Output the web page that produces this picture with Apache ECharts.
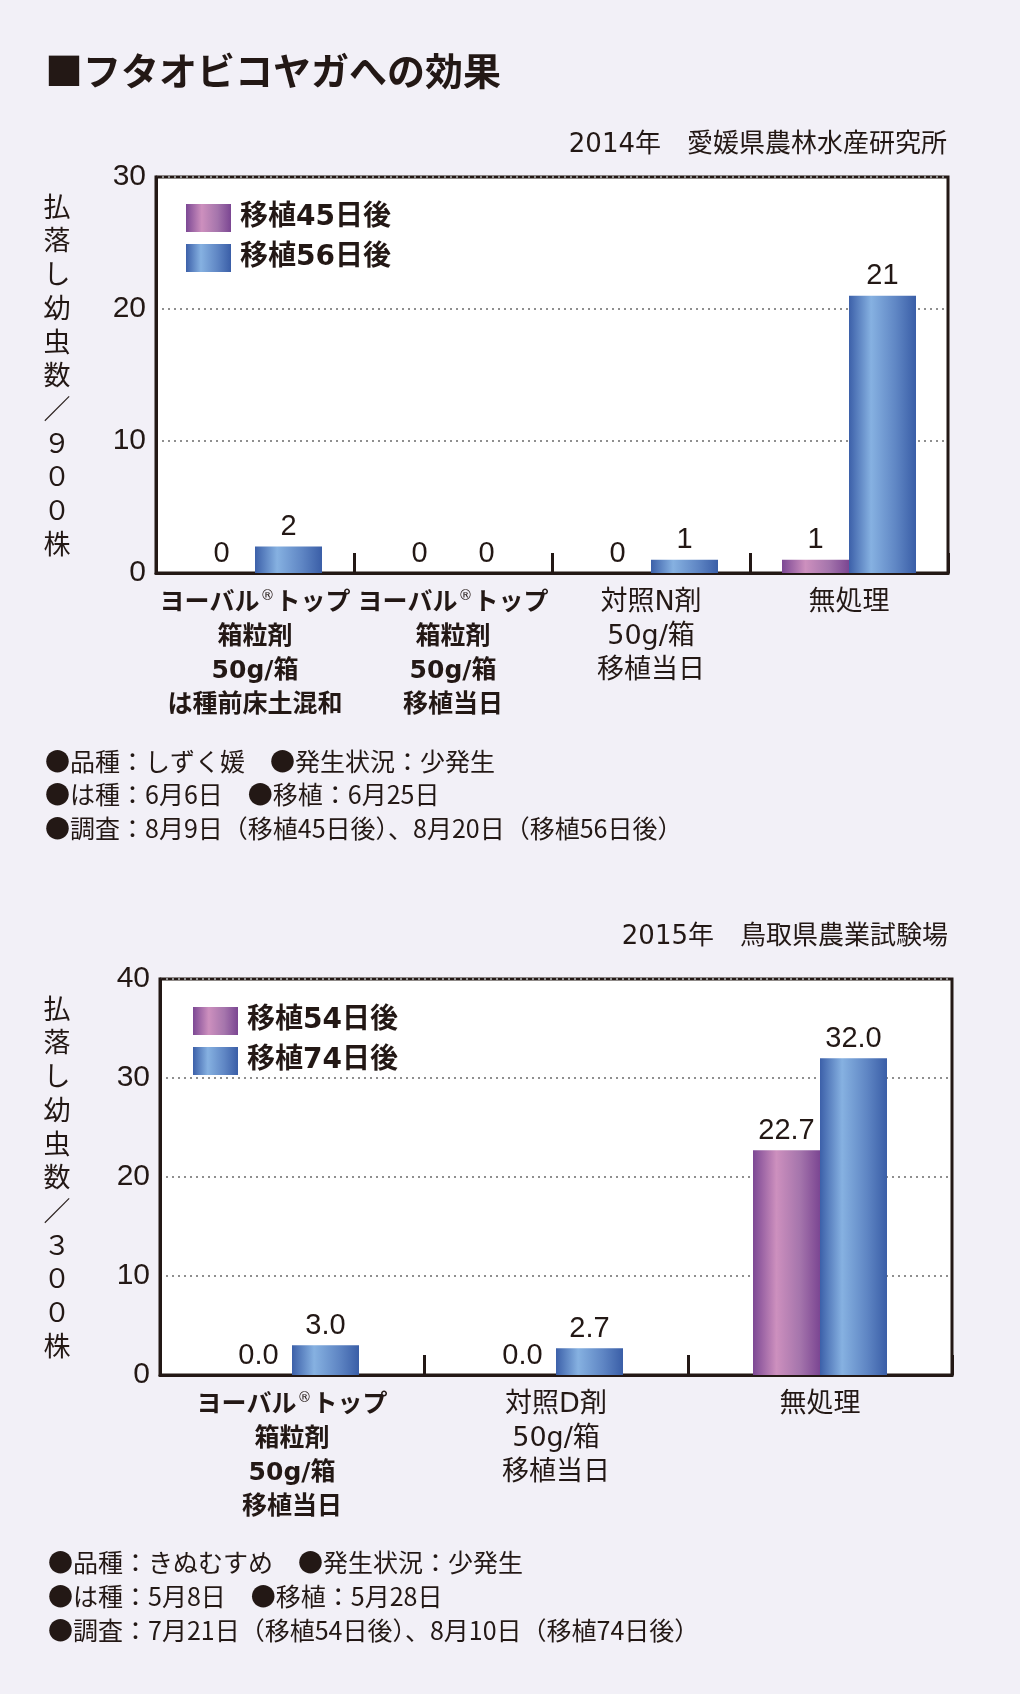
<!DOCTYPE html>
<html>
<head>
<meta charset="utf-8">
<script src="https://cdn.jsdelivr.net/npm/echarts@6/dist/echarts.min.js"></script>
<style>
html,body{margin:0;padding:0;background:#f2f0f7;}
#main{width:1020px;height:1694px;}
</style>
</head>
<body>
<div id="main"></div>
<script>
// ---------- data ----------
const pageTitle = '■フタオビコヤガへの効果';

const source1 = '2014年　愛媛県農林水産研究所';
const categories1 = [
  'ヨーバル®トップ\n箱粒剤\n50g/箱\nは種前床土混和',
  'ヨーバル®トップ\n箱粒剤\n50g/箱\n移植当日',
  '対照N剤\n50g/箱\n移植当日',
  '無処理'
];
const boldCats1 = [true, true, false, false];
const seriesNames1 = ['移植45日後', '移植56日後'];
const values1a = [0, 0, 0, 1];
const values1b = [2, 0, 1, 21];
const yTicks1 = {min: 0, max: 30, interval: 10};
const yTitle1 = '払落し幼虫数／９００株';
const notes1 = [
  '●品種：しずく媛　●発生状況：少発生',
  '●は種：6月6日　●移植：6月25日',
  '●調査：8月9日（移植45日後）、8月20日（移植56日後）'
];

const source2 = '2015年　鳥取県農業試験場';
const categories2 = [
  'ヨーバル®トップ\n箱粒剤\n50g/箱\n移植当日',
  '対照D剤\n50g/箱\n移植当日',
  '無処理'
];
const boldCats2 = [true, false, false];
const seriesNames2 = ['移植54日後', '移植74日後'];
const values2a = [0.0, 0.0, 22.7];
const values2b = [3.0, 2.7, 32.0];
const yTicks2 = {min: 0, max: 40, interval: 10};
const yTitle2 = '払落し幼虫数／３００株';
const notes2 = [
  '●品種：きぬむすめ　●発生状況：少発生',
  '●は種：5月8日　●移植：5月28日',
  '●調査：7月21日（移植54日後）、8月10日（移植74日後）'
];

// ---------- styles ----------
const INK = '#231815';
const BG = '#f2f0f7';
const CJK = "'Noto Sans CJK JP', sans-serif";
const LAT = "'DejaVu Sans', 'Noto Sans CJK JP', sans-serif";
const NUM = "'Liberation Sans', 'Noto Sans CJK JP', sans-serif";

const purple = new echarts.graphic.LinearGradient(0, 0, 1, 0, [
  {offset: 0, color: '#7c4894'},
  {offset: 0.35, color: '#cd90be'},
  {offset: 0.7, color: '#a575ac'},
  {offset: 1, color: '#7b4692'}
]);
const blue = new echarts.graphic.LinearGradient(0, 0, 1, 0, [
  {offset: 0, color: '#3c60a9'},
  {offset: 0.33, color: '#86b1e1'},
  {offset: 0.7, color: '#5f86c4'},
  {offset: 1, color: '#3a5ea7'}
]);

function catFormatter(bolds) {
  return function (value, idx) {
    const st = bolds[idx] ? 'b' : 'n';
    return value.split('\n').map(function (line) {
      return line.split('®').map(function (s) { return s ? '{' + st + '|' + s + '}' : ''; }).join('{sup|®}');
    }).join('\n');
  };
}
const catRich = {
  b: {fontSize: 25, fontWeight: 'bold', lineHeight: 34, color: INK, fontFamily: LAT},
  n: {fontSize: 27, lineHeight: 34, color: INK, fontFamily: LAT},
  sup: {fontSize: 14, lineHeight: 15, verticalAlign: 'top', color: INK, fontFamily: LAT, padding: [3, 1, 0, 1]}
};

function xAxisCfg(gridIndex, cats, bolds) {
  return {
    type: 'category', gridIndex: gridIndex, data: cats,
    axisLine: {lineStyle: {color: INK, width: 3}},
    axisTick: {show: true, inside: true, length: 20, interval: 0, lineStyle: {color: INK, width: 3}},
    axisLabel: {interval: 0, margin: 13, formatter: catFormatter(bolds), rich: catRich, color: INK}
  };
}
function yAxisCfg(gridIndex, t, title, gap) {
  return {
    type: 'value', gridIndex: gridIndex, min: t.min, max: t.max, interval: t.interval,
    name: title.split('').join('\n'), nameLocation: 'middle', nameRotate: 0, nameGap: gap,
    nameTextStyle: {fontSize: 27, lineHeight: 33.7, color: INK, fontFamily: CJK, align: 'center', verticalAlign: 'middle'},
    axisLine: {show: true, lineStyle: {color: INK, width: 3}},
    axisTick: {show: false},
    axisLabel: {fontSize: 30, color: INK, fontFamily: NUM, margin: 10},
    splitLine: {show: true, lineStyle: {color: '#8f8f8f', width: 2, type: [2, 4]}}
  };
}
function barSeries(name, data, color, axisIndex, dec) {
  return {
    type: 'bar', name: name, data: data, xAxisIndex: axisIndex, yAxisIndex: axisIndex,
    barWidth: 67, barGap: '0%',
    itemStyle: {color: color},
    label: {show: true, position: 'top', distance: 5, fontSize: 29, color: INK, fontFamily: NUM,
      formatter: function (p) { return dec ? p.value.toFixed(1) : String(p.value); }}
  };
}
function noteTexts(lines, x, ys) {
  return lines.map(function (l, i) {
    return {type: 'text', left: x, top: ys[i] - 15,
      style: {text: l, fontSize: 25, fill: INK, fontFamily: CJK, lineHeight: 30}};
  });
}

const chart = echarts.init(document.getElementById('main'), null, {renderer: 'canvas'});
chart.setOption({
  backgroundColor: BG,
  animation: false,
  grid: [
    {left: 156, top: 177, width: 792, height: 396, show: true, backgroundColor: '#fff', borderColor: INK, borderWidth: 3},
    {left: 160, top: 979, width: 792, height: 396, show: true, backgroundColor: '#fff', borderColor: INK, borderWidth: 3}
  ],
  legend: [
    {data: seriesNames1, left: 181, top: 199, orient: 'vertical', itemWidth: 45, itemHeight: 28, itemGap: 12,
      icon: 'rect', selectedMode: false,
      textStyle: {fontSize: 28, fontWeight: 'bold', color: INK, fontFamily: LAT, padding: [0, 0, 0, 4]}},
    {data: seriesNames2, left: 188, top: 1002, orient: 'vertical', itemWidth: 45, itemHeight: 28, itemGap: 12,
      icon: 'rect', selectedMode: false,
      textStyle: {fontSize: 28, fontWeight: 'bold', color: INK, fontFamily: LAT, padding: [0, 0, 0, 4]}}
  ],
  xAxis: [xAxisCfg(0, categories1, boldCats1), xAxisCfg(1, categories2, boldCats2)],
  yAxis: [yAxisCfg(0, yTicks1, yTitle1, 99), yAxisCfg(1, yTicks2, yTitle2, 103)],
  series: [
    barSeries(seriesNames1[0], values1a, purple, 0, false),
    barSeries(seriesNames1[1], values1b, blue, 0, false),
    barSeries(seriesNames2[0], values2a, purple, 1, true),
    barSeries(seriesNames2[1], values2b, blue, 1, true)
  ],
  graphic: [
    {type: 'text', left: 45, top: 52, style: {text: pageTitle, fontSize: 38, fontWeight: 'bold', fill: INK, fontFamily: CJK}},
    {type: 'text', right: 73, top: 132, style: {text: source1, fontSize: 26, fill: INK, fontFamily: LAT}},
    {type: 'text', right: 72, top: 924, style: {text: source2, fontSize: 26, fill: INK, fontFamily: LAT}}
  ].concat(noteTexts(notes1, 45, [761, 794, 828])).concat(noteTexts(notes2, 48, [1562, 1596, 1630]))
});
</script>
</body>
</html>
